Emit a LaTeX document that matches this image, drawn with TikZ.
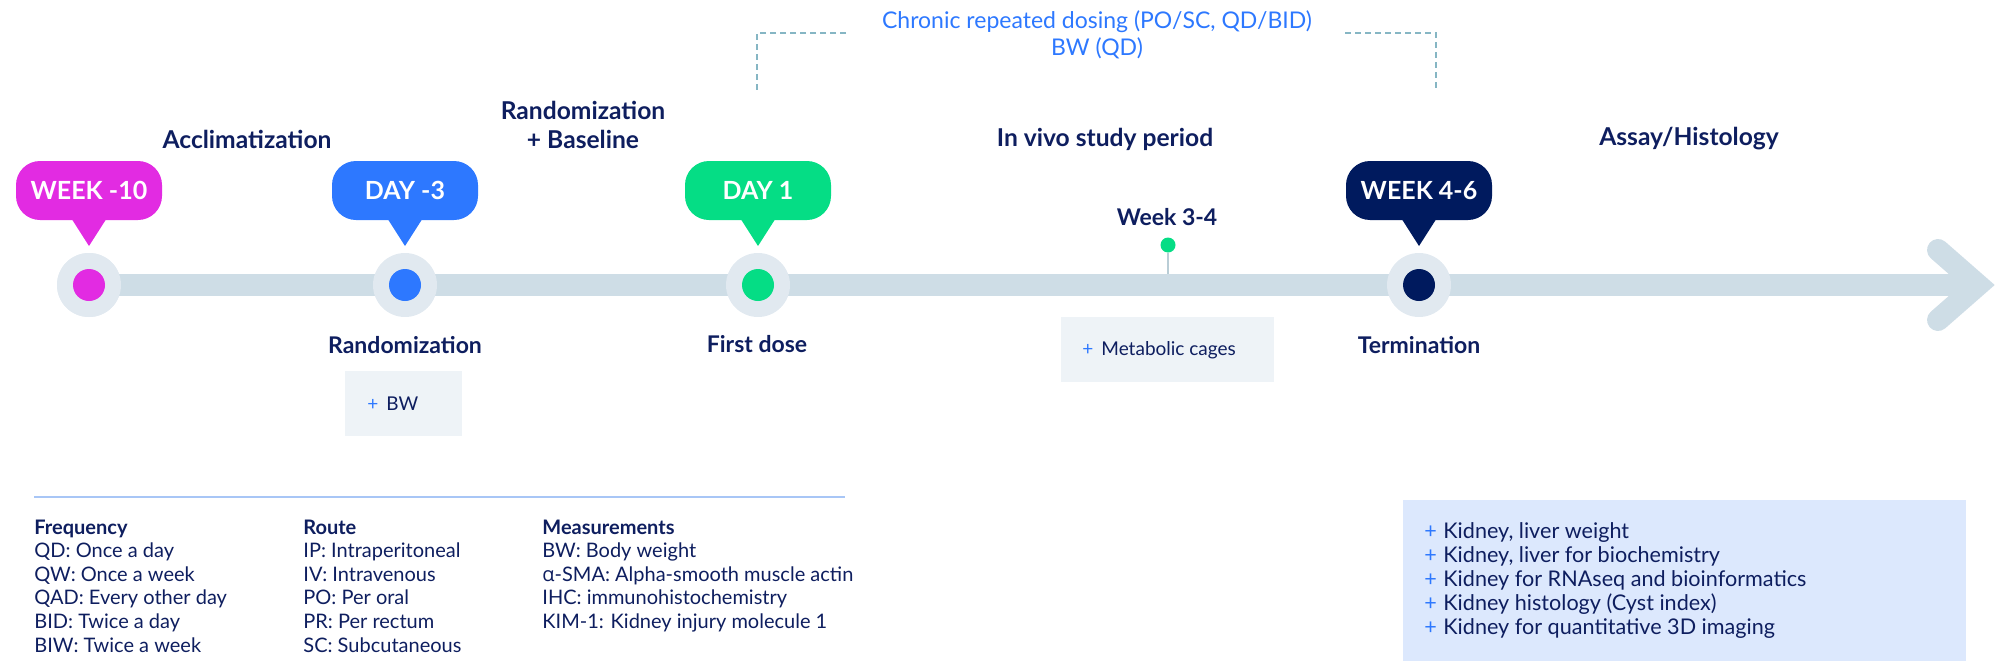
\documentclass[tikz,border=0pt]{standalone}
\usepackage{fontspec}
\setmainfont{Lato}
\newfontfamily\alphafont{Open Sans}
\usetikzlibrary{positioning,calc}
\definecolor{txtnavy}{RGB}{14,30,95}
\definecolor{navypin}{RGB}{0,26,94}
\definecolor{magentapin}{RGB}{226,43,226}
\definecolor{bluepin}{RGB}{45,120,255}
\definecolor{greenpin}{RGB}{5,221,133}
\definecolor{axisgray}{RGB}{206,221,230}
\definecolor{ringgray}{RGB}{225,233,240}
\definecolor{stemgray}{RGB}{185,205,214}
\definecolor{boxgray}{RGB}{238,243,247}
\definecolor{kidneyblue}{RGB}{220,232,253}
\definecolor{bracketteal}{RGB}{134,182,196}
\definecolor{rulelight}{RGB}{168,198,246}
\newcommand{\addmark}{\makebox[9.5pt][l]{\color{bluepin}+}}

\begin{document}
\begin{tikzpicture}[x=0.5pt,y=-0.5pt,
    % define styles
    bubble/.style={
        fill=#1,
        rounded corners=12pt,
        minimum width=73pt,
        minimum height=29.5pt,
        inner sep=0pt,
        text=white,
        font=\fontsize{12.5}{14}\selectfont\bfseries
    },
    ring/.style={circle, fill=ringgray, minimum size=32pt, inner sep=0pt},
    core/.style={circle, fill=#1, minimum size=16pt, inner sep=0pt},
    axis/.style={draw=axisgray, line width=11pt},
    phase/.style={
        text=txtnavy,
        align=center,
        font=\fontsize{12.3}{14.5}\selectfont\bfseries
    },
    event/.style={text=txtnavy, font=\fontsize{11.5}{14}\selectfont\bfseries},
    smallbox/.style={fill=boxgray, minimum height=32.5pt, inner sep=0pt},
    boxtext/.style={text=txtnavy, inner sep=0pt, font=\fontsize{9.5}{11.75}\selectfont},
    legend/.style={
        text=txtnavy,
        align=left,
        inner sep=0pt,
        font=\fontsize{10}{11.8}\selectfont
    },
    bracket/.style={draw=bracketteal, line width=0.8pt, dash pattern=on 3pt off 2pt}
]
\useasboundingbox (0,0) rectangle (2000,669);

% Dosing bracket
\node[text=bluepin, font=\fontsize{11.5}{13}\selectfont] (dose1) at (1097,22) {Chronic repeated dosing (PO/SC, QD/BID)};
\node[text=bluepin, font=\fontsize{11.5}{13}\selectfont] (dose2) at (1097,48) {BW (QD)};
\coordinate (brla) at (846,33);
\coordinate (brlb) at (757,93);
\coordinate (brra) at (1345,33);
\coordinate (brrb) at (1436,88);
\draw[bracket] (brla) -| (brlb);
\draw[bracket] (brra) -| (brrb);

% Phase headings
\node[phase] (accl) at (247,139) {Acclimatization};
\node[phase] (rand) at (583,124.5) {Randomization\\+ Baseline};
\node[phase] (invivo) at (1105,139) {In vivo study period};
\node[phase] (assay) at (1689,139) {Assay/Histology};

% Week 3-4 marker
\node[event] (w34) at (1167,217) {Week 3-4};
\node[circle, fill=greenpin, minimum size=7.5pt, inner sep=0pt] (w34dot) at (1168,245) {};
\coordinate (w34foot) at (1168,285);
\draw[stemgray, line width=1pt] (w34dot) -- (w34foot);

% Time axis with arrow head
\coordinate (axisend) at (1978,285);
\coordinate (chevup) at (1938,250);
\coordinate (chevdown) at (1938,320);
\node[ring] (wk10ring) at (89,285) {};
\draw[axis] (wk10ring.center) -- (axisend);
\draw[axis, line cap=round, line join=miter] (chevup) -- (axisend) -- (chevdown);

% Milestones
\node[ring] at (89,285) {};
\node[core=magentapin] (wk10dot) at (wk10ring) {};
\node[ring] (dm3ring) at (405,285) {};
\node[core=bluepin] (dm3dot) at (dm3ring) {};
\node[ring] (d1ring) at (758,285) {};
\node[core=greenpin] (d1dot) at (d1ring) {};
\node[ring] (wk46ring) at (1419,285) {};
\node[core=navypin] (wk46dot) at (wk46ring) {};

% Speech bubbles
\node[bubble=magentapin] (wk10) at (89,190.5) {WEEK -10};
\node[bubble=bluepin] (dm3) at (405,190.5) {DAY -3};
\node[bubble=greenpin] (d1) at (758,190.5) {DAY 1};
\node[bubble=navypin] (wk46) at (1419,190.5) {WEEK 4-6};
\coordinate (wk10tip) at (89,246);
\coordinate (dm3tip) at (405,246);
\coordinate (d1tip) at (758,246);
\coordinate (wk46tip) at (1419,246);
\fill[magentapin] ([xshift=-8.5pt,yshift=0.5pt]wk10.south) -- (wk10tip) -- ([xshift=8.5pt,yshift=0.5pt]wk10.south) -- cycle;
\fill[bluepin] ([xshift=-8.5pt,yshift=0.5pt]dm3.south) -- (dm3tip) -- ([xshift=8.5pt,yshift=0.5pt]dm3.south) -- cycle;
\fill[greenpin] ([xshift=-8.5pt,yshift=0.5pt]d1.south) -- (d1tip) -- ([xshift=8.5pt,yshift=0.5pt]d1.south) -- cycle;
\fill[navypin] ([xshift=-8.5pt,yshift=0.5pt]wk46.south) -- (wk46tip) -- ([xshift=8.5pt,yshift=0.5pt]wk46.south) -- cycle;

% Labels under the axis
\node[event] (randlab) at (405,345) {Randomization};
\node[event] (doselab) at (757,344) {First dose};
\node[event] (termlab) at (1419,345) {Termination};

% Small boxes
\node[smallbox, minimum width=58.5pt, anchor=north west] (bwbox) at (345,371) {};
\node[boxtext, right=11pt of bwbox.west] (bwtext) {\addmark BW};
\node[smallbox, minimum width=106.5pt, anchor=north west] (cagebox) at (1061,317) {};
\node[boxtext, right=10.5pt of cagebox.west] (cagetext) {\addmark Metabolic cages};

% Legend (anchored at the last baseline)
\coordinate (rulea) at (34,497);
\coordinate (ruleb) at (845,497);
\draw[rulelight, line width=1pt] (rulea) -- (ruleb);
\node[legend, anchor=base west] (freq) at (34,652) {\textbf{Frequency}\\QD: Once a day\\QW: Once a week\\QAD: Every other day\\BID: Twice a day\\BIW: Twice a week};
\node[legend, anchor=base west] (route) at (303,652) {\textbf{Route}\\IP: Intraperitoneal\\IV: Intravenous\\PO: Per oral\\PR: Per rectum\\SC: Subcutaneous};
\node[legend, anchor=base west] (meas) at (542,628.5) {\textbf{Measurements}\\BW: Body weight\\{\alphafont α}-SMA: Alpha-smooth muscle actin\\IHC: immunohistochemistry\\KIM-1: Kidney injury molecule 1};

% Assay box
\node[fill=kidneyblue, minimum width=281.5pt, minimum height=80.5pt, inner sep=0pt, anchor=north west] (kbox) at (1403,500) {};
\node[legend, font=\fontsize{10.8}{11.9}\selectfont, anchor=base west] (klist) at (1424,634) {\addmark Kidney, liver weight\\\addmark Kidney, liver for biochemistry\\\addmark Kidney for RNAseq and bioinformatics\\\addmark Kidney histology (Cyst index)\\\addmark Kidney for quantitative 3D imaging};
\end{tikzpicture}
\end{document}
